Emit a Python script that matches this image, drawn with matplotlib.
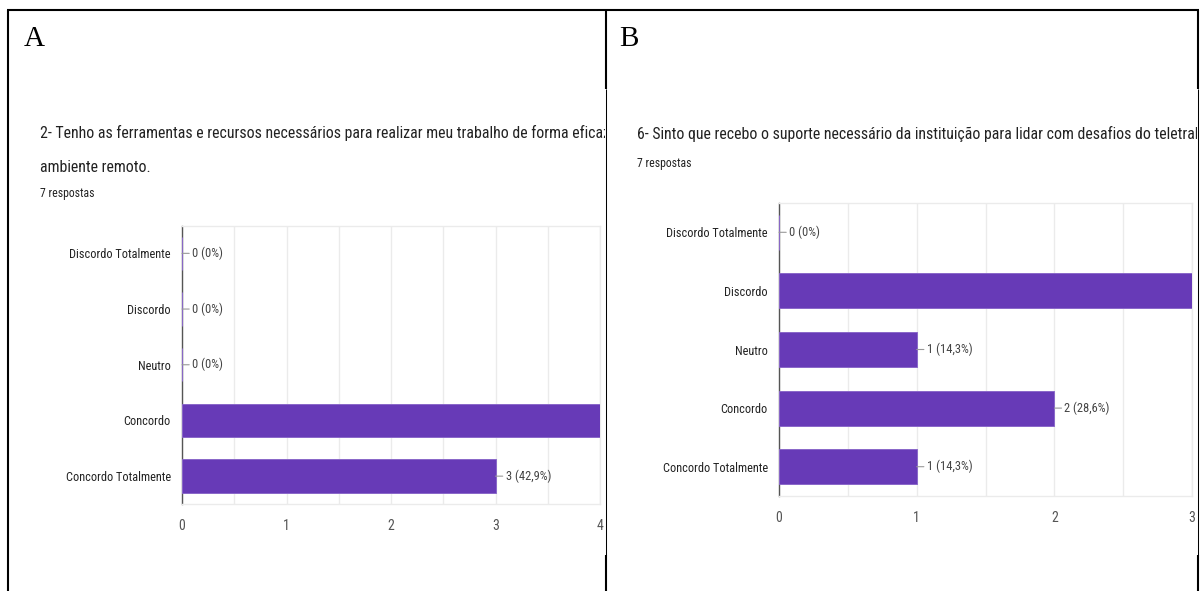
import matplotlib
matplotlib.use("Agg")
import matplotlib.pyplot as plt
import numpy as np
from matplotlib import font_manager
from matplotlib.lines import Line2D
from matplotlib.transforms import Bbox

# ---- data ---------------------------------------------------------------
categories = ["Discordo Totalmente", "Discordo", "Neutro", "Concordo", "Concordo Totalmente"]
counts_a = [0, 0, 0, 4, 3]
counts_b = [0, 3, 1, 2, 1]
responses_a = 7
responses_b = 7
title_a = ["2- Tenho as ferramentas e recursos necessários para realizar meu trabalho de forma eficaz no",
           "ambiente remoto."]
title_b = ["6- Sinto que recebo o suporte necessário da instituição para lidar com desafios do teletrabalho."]
panel_letters = ["A", "B"]

# ---- styling ------------------------------------------------------------
W, H = 1201, 591
BAR = "#673ab7"
BAR_EDGE = "#8a68c9"
GRID = "#ebebeb"
TEXT = "#222222"
SUB = "#444444"

available = {f.name for f in font_manager.fontManager.ttflist}
NARROW = [f for f in ("Roboto Condensed", "Roboto") if f in available] + ["DejaVu Sans"]
SERIF = "Liberation Serif"

fig = plt.figure(figsize=(W / 100, H / 100), dpi=100)
fig.patch.set_facecolor("white")


def box(left, top, right, bottom):
    """Pixel box (origin top-left) -> figure fraction rect."""
    return [left / W, 1 - bottom / H, (right - left) / W, (bottom - top) / H]


def fig_text(x, y, s, clip_right=None, **kw):
    t = fig.text(x / W, 1 - y / H, s, **kw)
    if clip_right is not None:
        t.set_clip_box(Bbox.from_extents(0, 0, clip_right, H))
        t.set_clip_on(True)
    return t


def pct_label(v, total):
    pct = 100.0 * v / total
    if v == 0:
        return f"{v} (0%)"
    return f"{v} ({pct:.1f}%)".replace(".", ",")


def draw_panel(rect, counts, total):
    xmax = max(counts)
    ax = fig.add_axes(box(*rect))
    ypos = np.arange(len(categories))
    ax.barh(ypos, counts, height=0.6, color=BAR, edgecolor=BAR_EDGE,
            linewidth=0.7, zorder=3)
    ax.set_xlim(0, xmax)
    ax.set_ylim(len(categories) - 0.5, -0.5)
    ax.set_xticks(np.arange(0, xmax + 1))
    ax.set_xticks(np.arange(0.5, xmax, 1.0), minor=True)
    ax.grid(axis="x", which="both", color=GRID, lw=1.0, zorder=0)
    ax.set_yticks(ypos)
    ax.set_yticklabels(categories)
    ax.tick_params(axis="both", which="both", length=0)
    ax.tick_params(axis="y", pad=8, labelsize=8.8, labelcolor=TEXT)
    ax.tick_params(axis="x", pad=11, labelsize=10, labelcolor="#555555")
    for lab in ax.get_xticklabels() + ax.get_yticklabels():
        lab.set_fontfamily(NARROW)
    ax.spines["left"].set_color("#555555")
    ax.spines["left"].set_linewidth(1.0)
    for s in ("top", "bottom", "right"):
        ax.spines[s].set_color(GRID)
        ax.spines[s].set_linewidth(1.0)
    for y, v in zip(ypos, counts):
        if v >= xmax:
            continue  # label would fall outside the plotting area
        ax.annotate(pct_label(v, total), xy=(v, y), xytext=(10, 0),
                    textcoords="offset pixels", va="center", ha="left",
                    fontsize=9, color=SUB, family=NARROW,
                    arrowprops=dict(arrowstyle="-", color="#999999", lw=0.8,
                                    shrinkA=0, shrinkB=0))
    return ax


# ---- panel A ------------------------------------------------------------
fig_text(24, 46, panel_letters[0], family=SERIF, fontsize=21, va="baseline", color="black")
fig_text(40, 133, title_a[0], clip_right=605, family=NARROW, fontsize=11.4, va="center", color=TEXT)
fig_text(40, 168, title_a[1], clip_right=605, family=NARROW, fontsize=11.4, va="center", color=TEXT)
fig_text(40, 194, f"{responses_a} respostas", family=NARROW, fontsize=8.5, va="center", color=TEXT)
draw_panel((182, 225.5, 600, 504), counts_a, responses_a)

# ---- panel B ------------------------------------------------------------
fig_text(619, 46, panel_letters[1], family=SERIF, fontsize=21, va="baseline", color="black")
fig_text(637, 134, title_b[0], clip_right=1197, family=NARROW, fontsize=11.4, va="center", color=TEXT)
fig_text(637, 163, f"{responses_b} respostas", family=NARROW, fontsize=8.5, va="center", color=TEXT)
draw_panel((779, 203, 1192, 496), counts_b, responses_b)

# ---- table borders ------------------------------------------------------
def rule(x0, y0, x1, y1, lw):
    fig.add_artist(Line2D([x0 / W, x1 / W], [1 - y0 / H, 1 - y1 / H],
                          transform=fig.transFigure, color="black", lw=lw,
                          solid_capstyle="butt"))


THICK, THIN = 1.5, 0.75
rule(6.5, 10, 1199, 10, THICK)
rule(7.5, 10, 7.5, 591, THICK)
for x in (606, 1198):
    rule(x, 10, x, 89, THICK)
    rule(x, 89, x, 555, THIN)
    rule(x - 0.5, 555, x - 0.5, 591, THICK)

fig.savefig("out.png", dpi=100, facecolor="white")
